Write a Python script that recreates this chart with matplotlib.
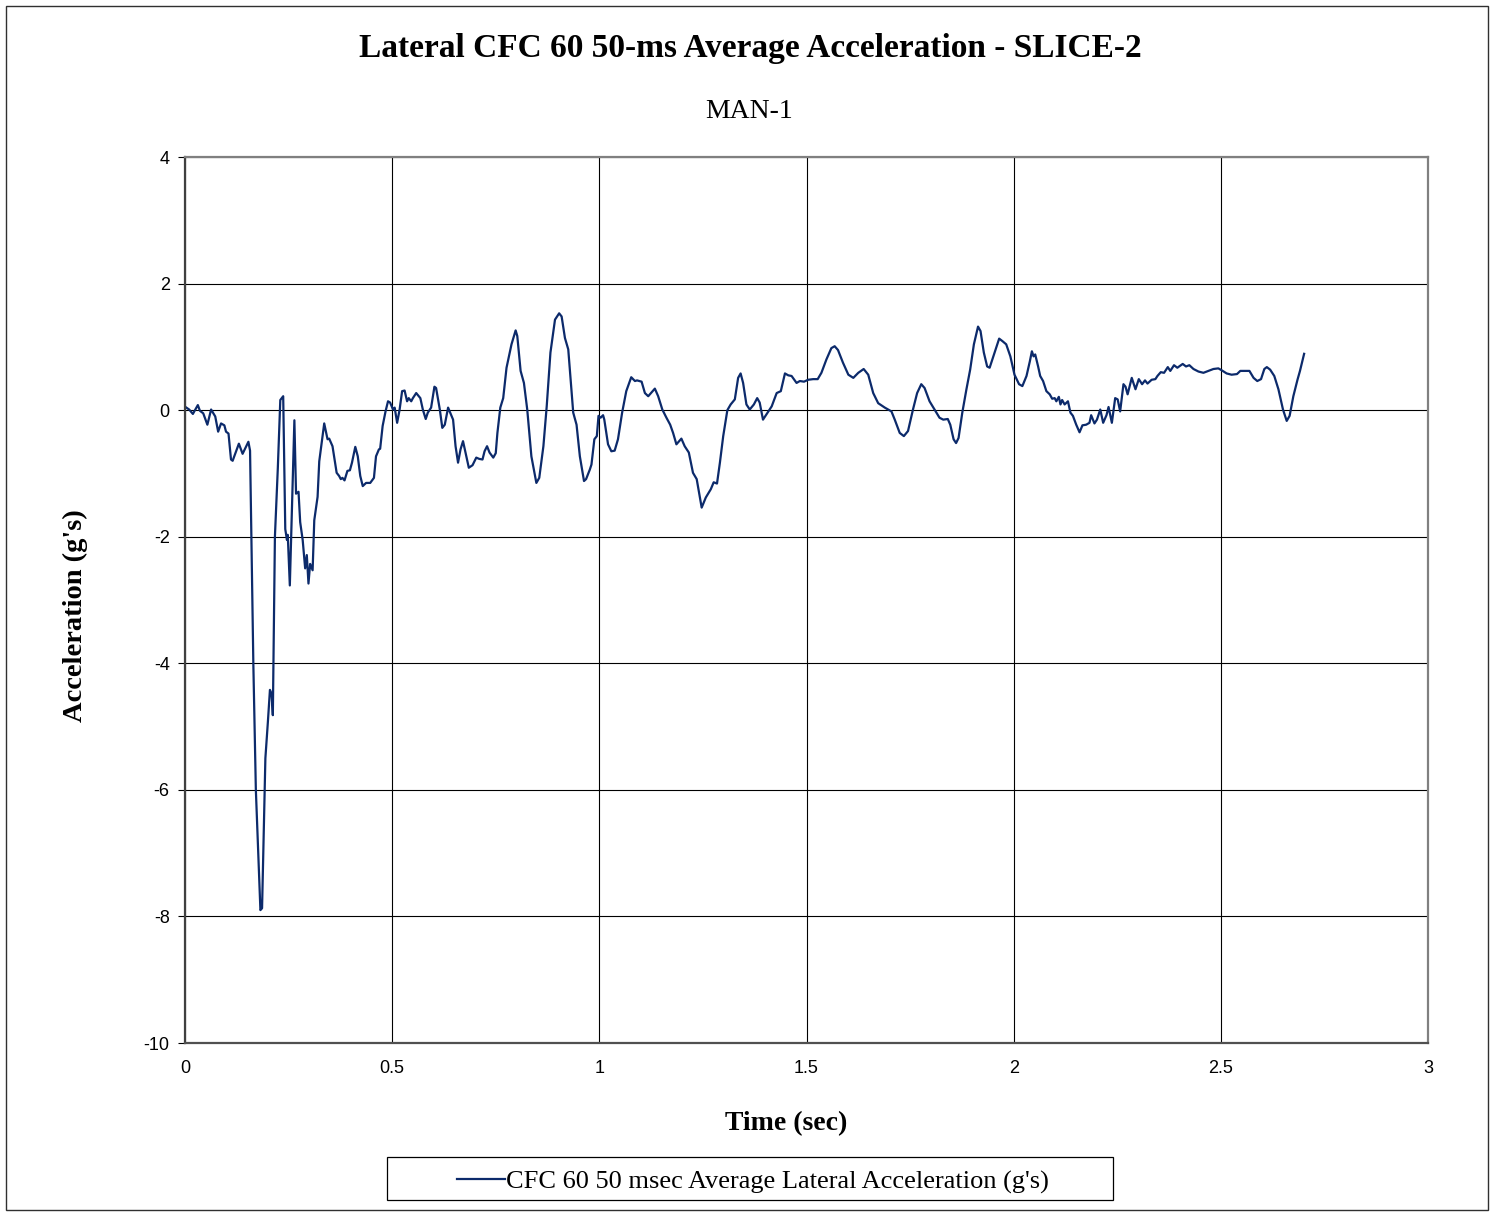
import matplotlib
matplotlib.use("Agg")
import matplotlib.pyplot as plt
from matplotlib.patches import Rectangle

# ---- data ----
time_s = [0.001,0.010,0.019,0.031,0.036,0.044,0.054,0.063,0.073,0.080,0.087,0.095,0.099,0.105,0.111,0.115,
          0.130,0.139,0.153,0.157,0.165,0.171,0.182,0.186,0.194,0.200,0.205,0.209,0.212,0.217,0.224,0.230,
          0.237,0.242,0.246,0.248,0.253,0.264,0.268,0.274,0.278,0.284,0.290,0.294,0.298,0.302,0.308,0.312,
          0.320,0.324,0.336,0.344,
          0.348,0.356,0.366,0.372,0.376,0.380,0.385,0.392,0.398,0.403,0.411,0.417,0.423,0.429,0.437,0.447,
          0.456,0.461,0.468,0.471,0.477,0.484,0.490,0.495,0.502,0.506,0.512,0.518,0.524,0.530,0.536,0.540,
          0.546,0.550,0.558,0.568,0.574,0.581,0.586,0.594,0.602,0.606,0.615,0.621,0.627,0.635,0.640,0.647,
          0.653,0.659,0.665,0.671,0.679,0.685,0.694,0.703,0.710,0.718,0.723,0.729,0.735,0.744,0.750,0.754,
          0.761,0.768,0.776,0.788,0.798,0.802,0.810,0.818,0.826,0.836,0.848,0.855,0.865,0.873,0.882,0.893,
          0.903,0.909,0.917,0.925,0.937,0.945,0.953,0.963,0.968,0.977,0.981,0.988,0.994,0.998,1.003,
          1.009,1.012,1.021,1.029,1.037,1.045,1.055,1.065,1.077,1.086,1.091,1.102,1.110,1.118,1.134,1.142,
          1.152,1.162,1.171,1.178,1.186,1.198,1.206,1.216,1.226,1.235,1.247,1.257,1.269,1.276,1.284,1.291,
          1.299,1.309,1.317,1.327,1.335,1.341,1.347,1.355,1.363,1.373,1.381,1.387,1.395,1.403,1.416,1.428,
          1.438,1.448,1.456,1.464,1.476,1.484,1.494,1.504,1.516,1.527,1.536,1.548,1.560,1.568,1.576,1.588,
          1.601,1.613,1.625,1.638,1.649,1.661,1.673,1.689,
          1.705,1.713,1.725,1.735,1.745,1.757,1.767,1.777,1.785,1.797,1.809,1.821,1.830,1.841,1.847,1.855,
          1.861,1.867,1.876,1.886,1.895,1.904,1.914,1.920,1.928,1.936,1.942,1.954,1.965,1.973,1.982,1.992,
          2.002,2.013,2.021,2.031,2.039,2.044,2.048,2.052,2.059,2.064,2.071,2.079,2.087,2.093,2.099,2.103,
          2.109,2.113,2.117,2.123,2.131,2.137,2.143,2.151,2.159,2.166,2.175,2.183,2.187,2.195,2.201,
          2.209,2.216,2.224,2.229,2.237,2.245,2.251,2.257,2.265,2.270,2.275,2.285,2.294,2.302,2.310,2.317,
          2.323,2.333,2.342,2.347,2.355,2.363,2.372,2.378,2.387,2.395,2.408,2.416,2.424,2.434,2.446,2.458,
          2.470,2.482,2.494,2.502,2.514,2.526,2.539,2.547,2.559,2.569,2.579,2.588,2.597,2.605,2.611,2.619,
          2.629,2.639,2.650,2.659,2.666,2.675,2.685,2.691,2.701]

accel_g = [0.05,0.01,-0.06,0.08,-0.01,-0.05,-0.23,0.01,-0.10,-0.34,-0.21,-0.24,-0.34,-0.37,-0.78,-0.80,
           -0.53,-0.69,-0.50,-0.64,-4.03,-6.00,-7.90,-7.87,-5.50,-4.93,-4.42,-4.48,-4.82,-2.00,-0.92,0.16,
           0.22,-1.88,-2.05,-1.97,-2.77,-0.16,-1.32,-1.29,-1.77,-2.05,-2.50,-2.29,-2.74,-2.43,-2.53,-1.74,
           -1.37,-0.81,-0.21,-0.46,
           -0.45,-0.57,-0.99,-1.04,-1.09,-1.07,-1.11,-0.96,-0.95,-0.83,-0.58,-0.73,-1.04,-1.20,-1.15,-1.15,
           -1.07,-0.73,-0.62,-0.61,-0.25,-0.02,0.14,0.12,0.01,0.04,-0.20,0.01,0.30,0.31,0.14,0.19,
           0.14,0.19,0.27,0.19,0.01,-0.14,-0.04,0.04,0.37,0.35,0.01,-0.28,-0.23,0.04,-0.04,-0.15,
           -0.57,-0.83,-0.62,-0.49,-0.73,-0.91,-0.87,-0.75,-0.77,-0.78,-0.65,-0.57,-0.67,-0.75,-0.68,-0.36,
           0.04,0.19,0.67,1.04,1.26,1.17,0.62,0.43,0.01,-0.73,-1.15,-1.07,-0.57,0.06,0.91,1.43,
           1.53,1.48,1.14,0.96,-0.04,-0.23,-0.73,-1.12,-1.09,-0.94,-0.86,-0.46,-0.41,-0.09,-0.12,
           -0.08,-0.15,-0.54,-0.65,-0.64,-0.46,-0.04,0.30,0.52,0.46,0.47,0.45,0.27,0.22,0.34,0.22,
           0.01,-0.12,-0.23,-0.36,-0.54,-0.45,-0.57,-0.67,-0.99,-1.09,-1.54,-1.38,-1.25,-1.14,-1.16,-0.83,
           -0.41,0.00,0.09,0.17,0.51,0.58,0.43,0.09,0.01,0.09,0.19,0.12,-0.15,-0.07,0.06,0.27,
           0.30,0.58,0.55,0.54,0.43,0.46,0.45,0.48,0.49,0.49,0.59,0.80,0.98,1.01,0.95,0.75,
           0.56,0.51,0.59,0.65,0.56,0.27,0.11,0.04,
           -0.02,-0.15,-0.36,-0.41,-0.33,0.01,0.27,0.41,0.35,0.14,0.01,-0.12,-0.15,-0.14,-0.23,-0.46,
           -0.52,-0.44,-0.04,0.33,0.64,1.04,1.32,1.25,0.91,0.69,0.67,0.91,1.13,1.09,1.04,0.85,
           0.56,0.41,0.38,0.54,0.77,0.93,0.85,0.88,0.69,0.54,0.46,0.30,0.25,0.18,0.19,0.14,
           0.21,0.09,0.16,0.09,0.14,-0.04,-0.09,-0.23,-0.35,-0.24,-0.23,-0.20,-0.08,-0.21,-0.15,
           0.01,-0.20,-0.08,0.05,-0.20,0.19,0.17,-0.02,0.41,0.37,0.25,0.51,0.33,0.49,0.41,0.47,
           0.42,0.48,0.49,0.54,0.60,0.59,0.68,0.62,0.71,0.67,0.73,0.69,0.71,0.65,0.61,0.59,
           0.62,0.65,0.66,0.63,0.58,0.56,0.57,0.62,0.62,0.62,0.51,0.46,0.49,0.65,0.68,0.64,
           0.54,0.33,0.01,-0.17,-0.09,0.22,0.48,0.62,0.89]

x_ticks = [0, 0.5, 1, 1.5, 2, 2.5, 3]
x_tick_labels = ["0", "0.5", "1", "1.5", "2", "2.5", "3"]
y_ticks = [-10, -8, -6, -4, -2, 0, 2, 4]
y_tick_labels = ["-10", "-8", "-6", "-4", "-2", "0", "2", "4"]

title = "Lateral CFC 60 50-ms Average Acceleration - SLICE-2"
subtitle = "MAN-1"
x_label = "Time (sec)"
y_label = "Acceleration (g's)"
series_label = "CFC 60 50 msec Average Lateral Acceleration (g's)"

W, H = 1491, 1212
fig = plt.figure(figsize=(W / 100, H / 100), dpi=100)
fig.patch.set_facecolor("white")

def fx(px):
    return px / W

def fy(py):
    return 1 - py / H

ax = fig.add_axes([fx(185), fy(1043), fx(1428) - fx(185), fy(157) - fy(1043)])
line_color = "#0c2a6b"
ln, = ax.plot(time_s, accel_g, color=line_color, lw=1.6, label=series_label)

ax.set_xlim(0, 3)
ax.set_ylim(-10, 4)
ax.set_xticks(x_ticks)
ax.set_xticklabels(x_tick_labels)
ax.set_yticks(y_ticks)
ax.set_yticklabels(y_tick_labels)
ax.grid(True, color="black", lw=0.8)
ax.set_axisbelow(True)
for s in ax.spines.values():
    s.set_color("#808080")
    s.set_linewidth(1.6)
ax.spines["left"].set_color("#404040")
ax.spines["bottom"].set_color("#505050")
ax.tick_params(axis="y", direction="out", length=5, width=0.8, colors="black", labelsize=13, pad=6)
ax.tick_params(axis="x", length=0, colors="black", labelsize=13, pad=12)
for lbl in ax.get_xticklabels() + ax.get_yticklabels():
    lbl.set_fontfamily("Liberation Sans")

fig.text(fx(786), fy(1124), x_label, ha="center", va="center", fontfamily="Liberation Serif",
         fontweight="bold", fontsize=20)
fig.text(fx(75), fy(616), y_label, ha="center", va="center", rotation=90, fontfamily="Liberation Serif",
         fontweight="bold", fontsize=20.5)

fig.text(fx(750), fy(48), title, ha="center", va="center", fontfamily="Liberation Serif",
         fontweight="bold", fontsize=24)
fig.text(fx(749), fy(111), subtitle, ha="center", va="center", fontfamily="Liberation Serif", fontsize=20)

# legend box
fig.patches.append(Rectangle((fx(387), fy(1200)), fx(1113) - fx(387), fy(1157) - fy(1200),
                             transform=fig.transFigure, facecolor="white", edgecolor="black", lw=0.9))
leg = fig.legend(handles=[ln], loc="center", bbox_to_anchor=(fx(753), fy(1182)), frameon=False,
                 prop={"family": "Liberation Serif", "size": 19}, handlelength=1.8, handletextpad=0.05)

# outer figure border
fig.patches.append(Rectangle((fx(6), fy(1210)), fx(1488) - fx(6), fy(6) - fy(1210),
                             transform=fig.transFigure, facecolor="none", edgecolor="#303030", lw=1.0))

fig.savefig("out.png", dpi=100)
